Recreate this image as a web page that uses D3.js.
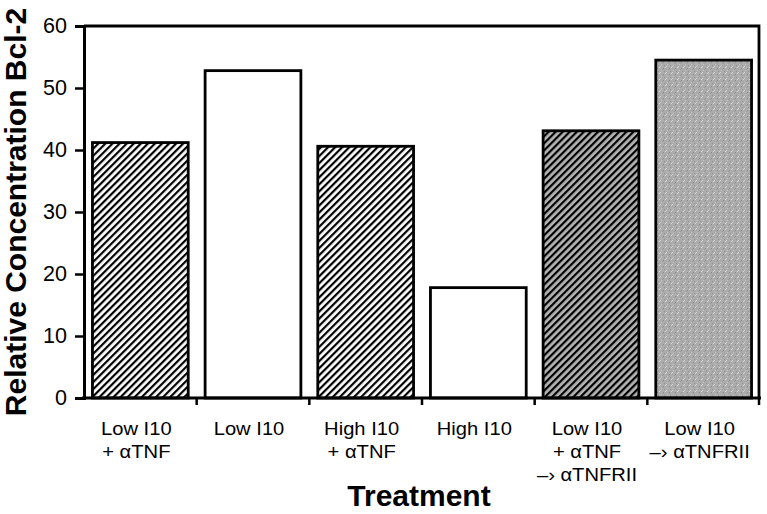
<!DOCTYPE html>
<html><head><meta charset="utf-8">
<script src="https://cdn.jsdelivr.net/npm/d3@7"></script>
<style>body{margin:0;background:#fff}svg{display:block}text{font-family:"Liberation Sans",Arial,sans-serif}</style>
</head><body>
<svg id="c" width="767" height="514"></svg>
<script>
const categories = [
  ["Low I10", "+ αTNF"],
  ["Low I10"],
  ["High I10", "+ αTNF"],
  ["High I10"],
  ["Low I10", "+ αTNF", "–› αTNFRII"],
  ["Low I10", "–› αTNFRII"]
];
const values = [41.2, 52.8, 40.6, 17.8, 43.1, 54.5];
const fills = ["hatch", "white", "hatch", "white", "hatchgrey", "grey"];
const yTicks = [0, 10, 20, 30, 40, 50, 60];

const svg = d3.select("#c");
const defs = svg.append("defs");
function hatch(id, bg) {
  const p = defs.append("pattern").attr("id", id).attr("patternUnits", "userSpaceOnUse")
    .attr("width", 5).attr("height", 5).attr("patternTransform", "rotate(45)");
  p.append("rect").attr("width", 5).attr("height", 5).attr("fill", bg);
  p.append("rect").attr("x", 0).attr("y", 0).attr("width", 2.2).attr("height", 5).attr("fill", "#000");
}
hatch("hatch", "#fff");
hatch("hatchgrey", "#b4b4b4");
const g = defs.append("pattern").attr("id", "grey").attr("patternUnits", "userSpaceOnUse").attr("width", 6).attr("height", 6);
g.append("rect").attr("width", 6).attr("height", 6).attr("fill", "#acacac");
[[0,0,"#d2d2d2"],[3,2,"#8a8a8a"],[1,4,"#c4c4c4"],[4,5,"#959595"],[5,1,"#d6d6d6"],[2,3,"#9c9c9c"]].forEach(d=>{
  g.append("rect").attr("x",d[0]).attr("y",d[1]).attr("width",1).attr("height",1).attr("fill",d[2]);
});
const fillUrl = {hatch:"url(#hatch)", white:"#fff", hatchgrey:"url(#hatchgrey)", grey:"url(#grey)"};

const x = d3.scaleBand().domain(d3.range(categories.length)).range([84, 760]).paddingInner(0.15).paddingOuter(0.075);
const y = d3.scaleLinear().domain([0, 60]).range([398, 26]);

// bars
svg.append("g").selectAll("rect").data(values).join("rect")
  .attr("x", (d,i) => x(i)).attr("width", x.bandwidth())
  .attr("y", d => y(d)).attr("height", d => y(0) - y(d))
  .attr("fill", (d,i) => fillUrl[fills[i]])
  .attr("stroke", "#000").attr("stroke-width", 2.8);

// frame
svg.append("path").attr("d", `M84,${y(60)}H759V${y(0)}`).attr("fill","none").attr("stroke","#000").attr("stroke-width",2.8);

// y axis
const ya = svg.append("g").attr("transform", "translate(84,0)")
  .call(d3.axisLeft(y).tickValues(yTicks).tickSize(9).tickPadding(8));
ya.select(".domain").attr("stroke-width", 3);
ya.selectAll(".tick line").attr("stroke-width", 2.5);
ya.selectAll("text").attr("font-size", 21.5).attr("fill", "#000").attr("font-family", '"Liberation Sans",Arial,sans-serif');

// x axis
const xa = svg.append("g");
xa.append("line").attr("x1", 82).attr("x2", 761).attr("y1", y(0)).attr("y2", y(0)).attr("stroke","#000").attr("stroke-width",3);
xa.selectAll("line.t").data(d3.range(1, categories.length + 1)).join("line").attr("class","t")
  .attr("x1", i => Math.min(759, x(i-1) + x.bandwidth() + x.step()*x.paddingInner()/2))
  .attr("x2", i => Math.min(759, x(i-1) + x.bandwidth() + x.step()*x.paddingInner()/2))
  .attr("y1", y(0)).attr("y2", y(0) + 7).attr("stroke","#000").attr("stroke-width",2.5);

// x labels
svg.append("g").selectAll("g").data(categories).join("g")
  .attr("transform", (d,i) => `translate(${x(i) + x.bandwidth()/2 - 4},434.5) scale(1.12,1)`)
  .append("text").attr("text-anchor","middle").attr("font-size", 18).attr("fill","#000")
  .selectAll("tspan").data(d => d).join("tspan")
  .attr("x", 0).attr("dy", (d,i) => i===0 ? 0 : 23.5).text(d => d);

// axis titles
svg.append("text").attr("x", 419).attr("y", 506).attr("text-anchor","middle")
  .attr("font-size", 30).attr("font-weight","bold").text("Treatment");
svg.append("text").attr("transform", "translate(25.5,212) rotate(-90)").attr("text-anchor","middle")
  .attr("font-size", 30).attr("font-weight","bold").text("Relative Concentration Bcl-2");
</script>
</body></html>
